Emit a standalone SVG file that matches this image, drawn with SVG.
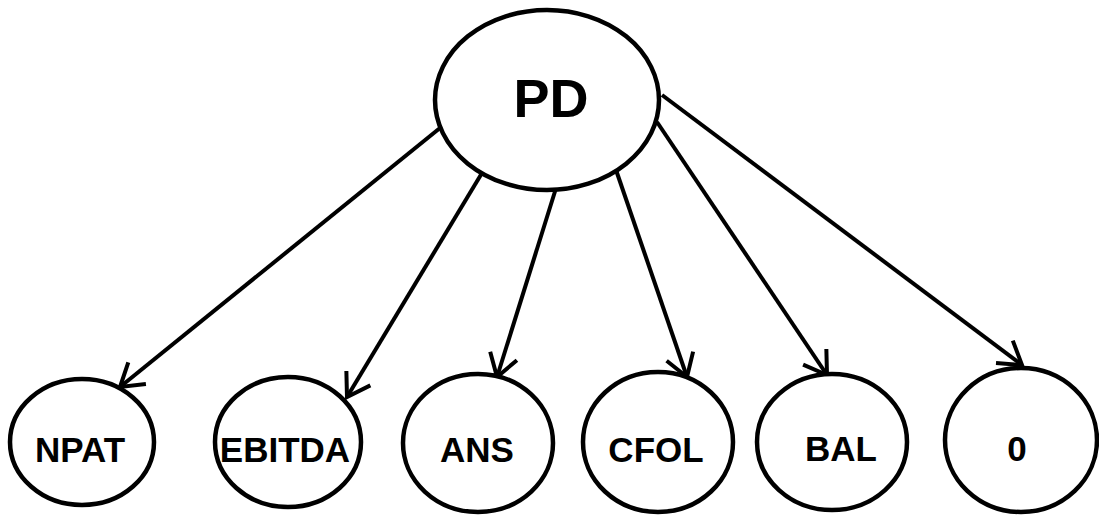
<svg xmlns="http://www.w3.org/2000/svg" width="1099" height="515" viewBox="0 0 1099 515">
<style>
.n ellipse{fill:#fff;stroke:#000;stroke-width:4.5}
.n text{font-family:"Liberation Sans",Arial,sans-serif;font-weight:bold;font-size:35px;fill:#000;text-anchor:middle}
.e line{stroke:#000;stroke-width:4;marker-end:url(#arr)}
</style>
<defs>
<marker id="arr" markerUnits="userSpaceOnUse" markerWidth="40" markerHeight="40" refX="0" refY="0" viewBox="-30 -20 40 40" orient="auto" overflow="visible">
<path d="M-22,-14 L0,0 L-22,14" fill="none" stroke="#000" stroke-width="4"/>
</marker>
</defs>
<rect width="1099" height="515" fill="#fff"/>
<g id="edges" class="e">
<line x1="440" y1="128" x2="120" y2="387"/>
<line x1="485" y1="168" x2="347" y2="397"/>
<line x1="557" y1="185" x2="497" y2="377"/>
<line x1="615" y1="167" x2="687" y2="377"/>
<line x1="657" y1="122" x2="827" y2="375"/>
<line x1="662" y1="95" x2="1022" y2="365"/>
</g>
<g id="PD" class="n"><ellipse cx="547" cy="100" rx="112" ry="90"/><text x="551" y="117" style="font-size:54px">PD</text></g>
<g id="NPAT" class="n"><ellipse cx="82" cy="442" rx="72" ry="63"/><text x="80" y="462">NPAT</text></g>
<g id="EBITDA" class="n"><ellipse cx="288" cy="442" rx="73" ry="65"/><text x="285" y="462">EBITDA</text></g>
<g id="ANS" class="n"><ellipse cx="478" cy="443" rx="75" ry="69"/><text x="477" y="462">ANS</text></g>
<g id="CFOL" class="n"><ellipse cx="658" cy="442" rx="75" ry="70"/><text x="656" y="462">CFOL</text></g>
<g id="BAL" class="n"><ellipse cx="832" cy="442" rx="75" ry="68"/><text x="841" y="461">BAL</text></g>
<g id="ZERO" class="n"><ellipse cx="1021" cy="440" rx="76" ry="72"/><text x="1017" y="461">0</text></g>
</svg>
